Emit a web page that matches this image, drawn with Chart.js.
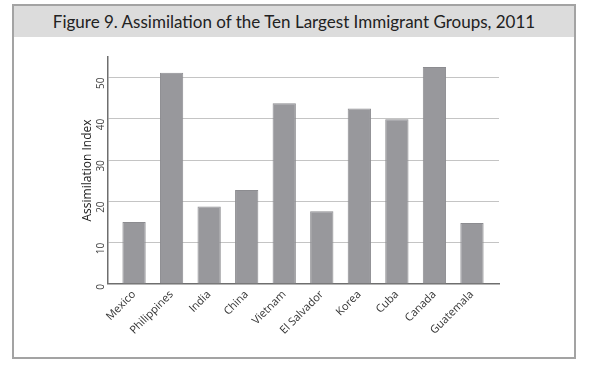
<!DOCTYPE html>
<html>
<head>
<meta charset="utf-8">
<script src="https://cdn.jsdelivr.net/npm/chart.js@4/dist/chart.umd.min.js"></script>
<style>
  body { margin: 0; background: #fff; }
  #wrap { position: relative; width: 602px; height: 370px; }
  #frame {
    position: absolute; left: 12px; top: 4px; width: 560px; height: 351px;
    border: 2px solid #a3a3a3;
  }
  #title {
    position: absolute; left: 0; top: 0; width: 100%; height: 31px;
    background: #dcdcdc; text-align: center;
    font-family: Lato, sans-serif; font-size: 17px; line-height: 31px; color: #222;
  }
  #box { position: absolute; left: 0; top: 0; width: 602px; height: 370px; }
</style>
</head>
<body>
<div id="wrap">
  <div id="frame"><div id="title">Figure 9. Assimilation of the Ten Largest Immigrant Groups, 2011</div></div>
  <div id="box"><canvas id="chart"></canvas></div>
</div>
<script>
// Data
const groups = ['Mexico', 'Philippines', 'India', 'China', 'Vietnam', 'El Salvador', 'Korea', 'Cuba', 'Canada', 'Guatemala'];
const assimilation = [15.0, 51.2, 18.8, 22.8, 43.8, 17.6, 42.5, 39.9, 52.6, 14.8];

// bars sit on a numeric x axis so the axis can run a little past the first and last bar
const points = groups.map((g, i) => ({ x: i, y: assimilation[i] }));

const ctx = document.querySelector('#chart').getContext('2d');

const assimilationChart = new Chart(ctx, {
    type: 'bar',
    data: {
        datasets: [
            {
                label: 'Assimilation Index',
                data: points,
                backgroundColor: '#98989c',
                borderColor: '#8c8c90',
                borderWidth: 1,
                categoryPercentage: 1,
                barPercentage: 0.62
            }
        ]
    },
    options: {
        responsive: true,
        maintainAspectRatio: false,
        animation: false,
        layout: {
            padding: { left: 67, right: 103, top: 57, bottom: 29 }
        },
        plugins: {
            legend: { display: false },
            tooltip: { enabled: false }
        },
        scales: {
            x: {
                type: 'linear',
                offset: false,
                min: -0.71,
                max: 9.72,
                afterBuildTicks: function(scale) {
                    scale.ticks = groups.map((g, i) => ({ value: i }));
                },
                grid: { display: false, drawTicks: false, offset: false },
                border: { color: '#6e6e6e', width: 1.5 },
                ticks: {
                    autoSkip: false,
                    minRotation: 45,
                    maxRotation: 45,
                    padding: 4,
                    color: '#333',
                    font: { family: 'Open Sans', size: 11 },
                    callback: function(value) {
                        return groups[value] || '';
                    }
                }
            },
            y: {
                min: 0,
                max: 55,
                afterBuildTicks: function(scale) {
                    scale.ticks = scale.ticks.filter(t => t.value % 10 === 0);
                },
                grid: { color: '#c4c4c4', lineWidth: 1, drawTicks: false },
                border: { color: '#6e6e6e', width: 1.5 },
                ticks: {
                    stepSize: 10,
                    minRotation: 90,
                    maxRotation: 90,
                    padding: 6,
                    color: '#444',
                    font: { family: 'Open Sans', size: 10 }
                },
                title: {
                    display: true,
                    text: 'Assimilation Index',
                    color: '#222',
                    padding: { top: 13, bottom: -11 },
                    font: { family: 'Open Sans', size: 12 }
                }
            }
        }
    }
});
</script>
</body>
</html>
